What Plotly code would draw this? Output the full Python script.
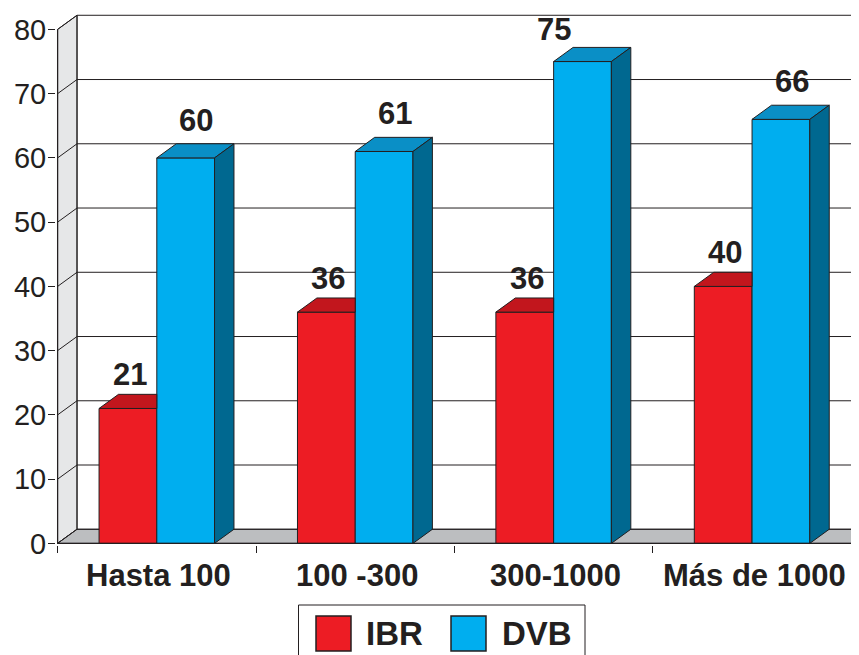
import plotly.graph_objects as go

# ---- data ----
categories = ["Hasta 100", "100 -300", "300-1000", "Más de 1000"]
ibr_values = [21, 36, 36, 40]
dvb_values = [60, 61, 75, 66]
series_names = ["IBR", "DVB"]
y_ticks = [0, 10, 20, 30, 40, 50, 60, 70, 80]

# ---- style / geometry ----
PAGE_PAD = 8    # default body margin of the html page
DX = 0.098      # depth offset in category units
DY = 2.2        # depth offset in value units
W = 0.291       # bar width
X_LO, X_HI = -0.508, 3.539
Y_LO, Y_HI = -0.25, 82.4
Y_TOP = 80
INK = "#231f20"
FONT = "Liberation Sans, Arial, Helvetica, sans-serif"
RED, RED_TOP = "#ed1c24", "#c2161d"
BLUE, BLUE_TOP, BLUE_SIDE = "#00aeef", "#0a8fc6", "#006890"
WALL, FLOOR = "#e6e7e8", "#bcbec0"

n = len(categories)
xs = list(range(n))
x0 = -0.5
x_end = n - 0.5

fig = go.Figure()

# front faces
fig.add_trace(go.Bar(x=xs, y=ibr_values, width=W, offset=-W, name=series_names[0],
                     marker=dict(color=RED, line=dict(color=INK, width=1)),
                     showlegend=False, hoverinfo="skip"))
fig.add_trace(go.Bar(x=xs, y=dvb_values, width=W, offset=0, name=series_names[1],
                     marker=dict(color=BLUE, line=dict(color=INK, width=1)),
                     showlegend=False, hoverinfo="skip"))


def poly_trace(polys, fill):
    px, py = [], []
    for p in polys:
        for a, b in p + [p[0]]:
            px.append(a)
            py.append(b)
        px.append(None)
        py.append(None)
    return go.Scatter(x=px, y=py, mode="lines", fill="toself", fillcolor=fill,
                      line=dict(color=INK, width=1), hoverinfo="skip", showlegend=False)


# red top faces (right part hidden behind the blue bar's front face)
red_tops = [[(i - W, r), (i - W + DX, r + DY), (i, r + DY), (i, r)]
            for i, r in zip(xs, ibr_values)]
blue_tops = [[(i, b), (i + DX, b + DY), (i + W + DX, b + DY), (i + W, b)]
             for i, b in zip(xs, dvb_values)]
blue_sides = [[(i + W, 0), (i + W + DX, DY), (i + W + DX, b + DY), (i + W, b)]
              for i, b in zip(xs, dvb_values)]
fig.add_trace(poly_trace(red_tops, RED_TOP))
fig.add_trace(poly_trace(blue_tops, BLUE_TOP))
fig.add_trace(poly_trace(blue_sides, BLUE_SIDE))

annotations = []
LABEL_FONT = dict(family=FONT, size=31, color=INK)
# value labels: red over the front face centre, blue over the top face
for i, v in zip(xs, ibr_values):
    annotations.append(dict(x=i - W / 2, y=v + DY, xref="x", yref="y", text=f"<b>{v}</b>",
                            showarrow=False, yanchor="bottom", xshift=2, yshift=0,
                            font=LABEL_FONT))
for i, v in zip(xs, dvb_values):
    if v + DY + 5.5 > Y_HI:
        # no room above: put the label beside the top face
        annotations.append(dict(x=i + DX, y=v + DY, xref="x", yref="y", text=f"<b>{v}</b>",
                                showarrow=False, yanchor="bottom", xanchor="right",
                                yshift=-2, font=LABEL_FONT))
    else:
        annotations.append(dict(x=i + W / 2 + DX / 2, y=v + DY, xref="x", yref="y",
                                text=f"<b>{v}</b>", showarrow=False, yanchor="bottom",
                                xshift=1, yshift=4, font=LABEL_FONT))
# category labels
for i, c in zip(xs, categories):
    annotations.append(dict(x=i, y=0, xref="x", yref="y", text=f"<b>{c}</b>",
                            showarrow=False, yanchor="top", xshift=2, yshift=-13,
                            font=dict(family=FONT, size=31, color=INK)))

shapes = []
# left wall
shapes.append(dict(type="path", xref="x", yref="y", layer="below",
                   path=f"M {x0},0 L {x0 + DX},{DY} L {x0 + DX},{Y_TOP + DY} L {x0},{Y_TOP} Z",
                   fillcolor=WALL, line=dict(color=INK, width=1)))
# floor
shapes.append(dict(type="path", xref="x", yref="y", layer="below",
                   path=f"M {x0},0 L {x0 + DX},{DY} L {x_end + DX},{DY} L {x_end},0 Z",
                   fillcolor=FLOOR, line=dict(color=INK, width=1)))
# gridlines on walls
for v in y_ticks:
    shapes.append(dict(type="line", xref="x", yref="y", layer="below",
                       x0=x0, y0=v, x1=x0 + DX, y1=v + DY, line=dict(color=INK, width=1)))
    shapes.append(dict(type="line", xref="x", yref="y", layer="below",
                       x0=x0 + DX, y0=v + DY, x1=X_HI + 1, y1=v + DY, line=dict(color=INK, width=1)))
# back-wall left edge
shapes.append(dict(type="line", xref="x", yref="y", layer="below",
                   x0=x0 + DX, y0=DY, x1=x0 + DX, y1=Y_TOP + DY, line=dict(color=INK, width=1)))
# front axis lines
shapes.append(dict(type="line", xref="x", yref="y", layer="above",
                   x0=x0, y0=0, x1=x0, y1=Y_TOP, line=dict(color=INK, width=1.2)))
shapes.append(dict(type="line", xref="x", yref="y", layer="above",
                   x0=x0, y0=0, x1=x_end, y1=0, line=dict(color=INK, width=1.2)))

# legend (manual), positions given in page pixels
PLOT_L, PLOT_W = 56, 803
PLOT_B, PLOT_H = 545, 531


def px_x(p):
    return (p - PLOT_L) / PLOT_W


def px_y(p):
    return (PLOT_B - p) / PLOT_H


shapes.append(dict(type="rect", xref="paper", yref="paper", x0=px_x(298.5), x1=px_x(585),
                   y0=px_y(605), y1=px_y(664), line=dict(color=INK, width=1), fillcolor="white"))
for (a, b), col in (((316, 351), RED), ((451, 486), BLUE)):
    shapes.append(dict(type="rect", xref="paper", yref="paper", x0=px_x(a), x1=px_x(b),
                       y0=px_y(616), y1=px_y(651), line=dict(color=INK, width=1.5), fillcolor=col))
for name, lx in zip(series_names, (364, 499.5)):
    annotations.append(dict(x=px_x(lx), y=px_y(633), xref="paper", yref="paper",
                            text=f"<b>{name}</b>", showarrow=False, xanchor="left",
                            yanchor="middle", font=dict(family=FONT, size=33, color=INK)))

fig.update_layout(
    width=859 - PAGE_PAD, height=655 - PAGE_PAD,
    margin=dict(l=PLOT_L - PAGE_PAD, r=0, t=14 - PAGE_PAD, b=655 - PLOT_B, autoexpand=False),
    paper_bgcolor="white", plot_bgcolor="white",
    barmode="overlay",
    showlegend=False,
    shapes=shapes,
    annotations=annotations,
    xaxis=dict(range=[X_LO, X_HI], tickvals=[x0] + [i + 0.5 for i in xs],
               ticktext=["" for _ in range(n + 1)],
               ticks="outside", ticklen=7, tickcolor=INK, tickwidth=1, automargin=False,
               showgrid=False, zeroline=False, showline=False, fixedrange=True),
    yaxis=dict(range=[Y_LO, Y_HI], tickvals=y_ticks, ticks="outside", ticklen=7,
               tickcolor=INK, tickwidth=1, showgrid=False, zeroline=False, showline=False,
               tickfont=dict(family=FONT, size=29, color=INK), ticklabelstandoff=-4,
               automargin=False, fixedrange=True),
)

fig.write_html("out.html")
